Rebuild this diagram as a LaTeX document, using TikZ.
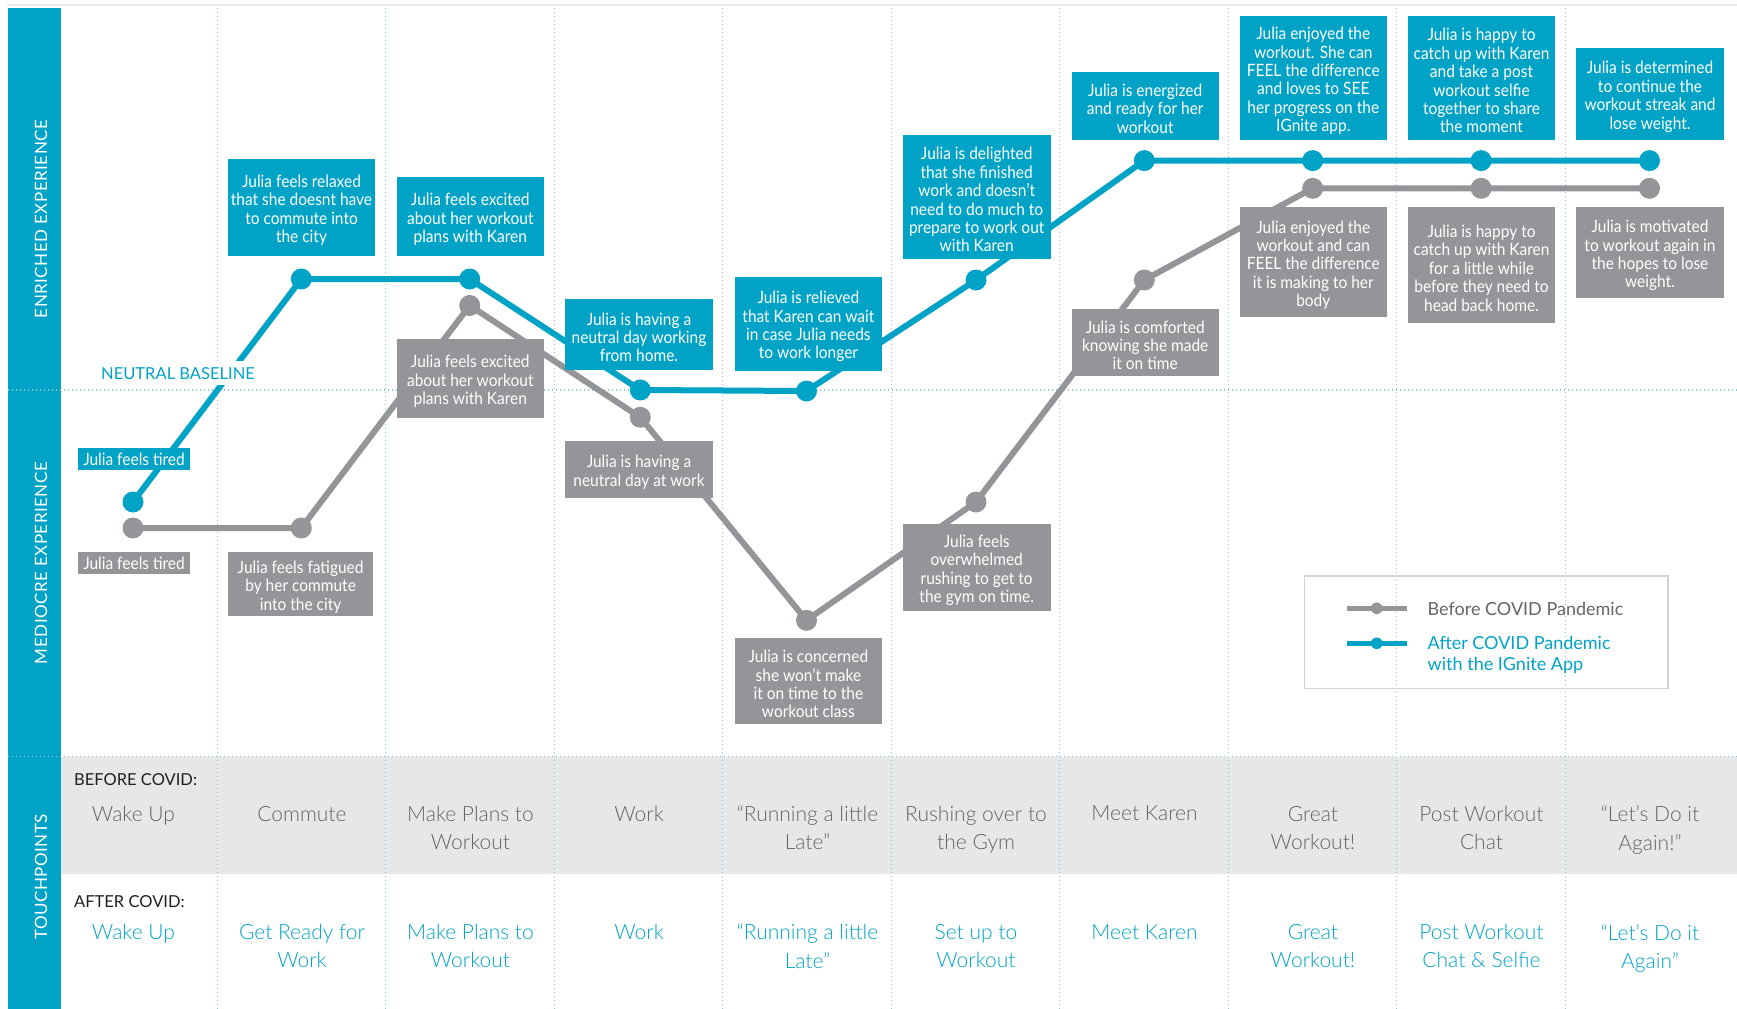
\documentclass[tikz,border=0pt]{standalone}
\usepackage{fontspec}
\usetikzlibrary{calc}
\setmainfont{Lato}
\IfFontExistsTF{Lato Light}{\newfontfamily\lightfont{Lato Light}}{\newfontfamily\lightfont{Lato}}
\newfontfamily\spacedfont{Lato}[LetterSpace=3]
\newfontfamily\cardfont{Lato}[FakeStretch=0.91]
\definecolor{ig}{RGB}{0,163,198}
\definecolor{gbox}{RGB}{147,149,152}
\definecolor{band}{RGB}{230,231,232}
\definecolor{dotc}{RGB}{140,200,212}
\definecolor{tpgray}{RGB}{100,101,104}
\definecolor{dark}{RGB}{35,31,32}
\definecolor{legedge}{RGB}{209,211,212}
\tikzset{
  card1/.style={inner sep=0pt, align=center, text=white,
    font=\cardfont\fontsize{17}{18.4}\selectfont},
  cardtext/.style={card1, yshift=-2.8pt},
  abox/.style={inner sep=0pt, fill=ig},
  bbox/.style={inner sep=0pt, fill=gbox},
  divider/.style={dotc, line width=1.2pt, dash pattern=on 1.2pt off 2.8pt},
  aline/.style={ig, line width=6pt, line join=round},
  bline/.style={gbox, line width=6pt, line join=round},
  tpbefore/.style={anchor=north, inner sep=0pt, align=center, text=tpgray,
    font=\lightfont\fontsize{21}{28.3}\selectfont},
  tpafter/.style={tpbefore, text=ig},
  bartext/.style={rotate=90, text=white, inner sep=0pt,
    font=\spacedfont\fontsize{17}{20}\selectfont},
  rowhead/.style={anchor=base west, inner sep=0pt, text=dark,
    font=\fontsize{16.5}{19}\selectfont},
}
% #1 box style, #2 name, #3 x, #4 y, #5 width, #6 height, #7 text
\newcommand\mkcard[7]{%
  \node[#1, minimum width=#5pt, minimum height=#6pt] (#2) at (#3,#4) {};
  \node[cardtext] (#2t) at (#2.center) {#7};}
\begin{document}
\begin{tikzpicture}[x=1pt,y=-1pt]
\useasboundingbox (0,0) rectangle (1737,1009);
\fill[white] (0,0) rectangle (1737,1009);
\draw[black!8, line width=1.5pt] (7,5) -- (1737,5);
% side bar and touchpoint band
\fill[ig] (7.7,7.7) rectangle (61,1009);
\fill[band] (61,756.6) rectangle (1737,874);
% grid
\foreach \i in {0,...,8} \draw[divider] ({217.25+168.5*\i},7.7) -- ({217.25+168.5*\i},1009);
\draw[divider] (7.7,390) -- (1737,390);
\draw[divider] (7.7,756.6) -- (1737,756.6);
% points
\coordinate (b1) at (133,502);
\coordinate (b2) at (301.3,279);
\coordinate (b3) at (469.7,279);
\coordinate (b4) at (640.3,390);
\coordinate (b5) at (806.5,391);
\coordinate (b6) at (976,280);
\coordinate (b7) at (1144.3,160.6);
\coordinate (b8) at (1312.7,160.6);
\coordinate (b9) at (1481.1,160.6);
\coordinate (b10) at (1649.5,160.6);
\coordinate (g1) at (133,528);
\coordinate (g2) at (301.3,528);
\coordinate (g3) at (469.7,305.5);
\coordinate (g4) at (640.3,417.3);
\coordinate (g5) at (806.5,620.3);
\coordinate (g6) at (976,502);
\coordinate (g7) at (1144.3,280);
\coordinate (g8) at (1312.7,188.3);
\coordinate (g9) at (1481.1,188.3);
\coordinate (g10) at (1649.5,188.3);
\draw[bline] (g1) -- (g2) -- (g3) -- (g4) -- (g5) -- (g6) -- (g7) -- (g8) -- (g9) -- (g10);
\draw[aline] (b1) -- (b2) -- (b3) -- (b4) -- (b5) -- (b6) -- (b7) -- (b8) -- (b9) -- (b10);
\foreach \n in {g1,g2,g3,g4,g5,g6,g7,g8,g9,g10} \fill[gbox] (\n) circle (10.5pt);
\foreach \n in {b1,b2,b3,b4,b5,b6,b7,b8,b9,b10} \fill[ig] (\n) circle (10.5pt);
% after cards
\node[card1, fill=ig, minimum width=112.5pt, minimum height=21.5pt] (a1) at (134,459) {Julia feels tired};
\mkcard{abox}{a2}{301.5}{207.5}{147}{97}{Julia feels relaxed\\that she doesnt have\\to commute into\\the city}
\mkcard{abox}{a3}{470.3}{216.7}{147.5}{79.5}{Julia feels excited\\about her workout\\plans with Karen}
\mkcard{abox}{a4}{639}{334.5}{147.3}{71}{Julia is having a\\neutral day working\\from home.}
\mkcard{abox}{a5}{808.4}{323.7}{147.7}{94}{Julia is relieved\\that Karen can wait\\in case Julia needs\\to work longer}
\mkcard{abox}{a6}{976.7}{197}{147.8}{124}{Julia is delighted\\that she finished\\work and doesn’t\\need to do much to\\prepare to work out\\with Karen}
\mkcard{abox}{a7}{1145.2}{106}{147.2}{68}{Julia is energized\\and ready for her\\workout}
\mkcard{abox}{a8}{1313.3}{78}{147}{124}{Julia enjoyed the\\workout. She can\\FEEL the difference\\and loves to SEE\\her progress on the\\IGnite app.}
\mkcard{abox}{a9}{1481.5}{78}{147}{124}{Julia is happy to\\catch up with Karen\\and take a post\\workout selfie\\together to share\\the moment}
\mkcard{abox}{a10}{1650}{94}{147.4}{91.7}{Julia is determined\\to continue the\\workout streak and\\lose weight.}
% before cards
\node[card1, fill=gbox, minimum width=112.5pt, minimum height=22pt] (c1) at (134,563.3) {Julia feels tired};
\mkcard{bbox}{c2}{300.6}{584}{145}{63.7}{Julia feels fatigued\\by her commute\\into the city}
\mkcard{bbox}{c3}{470.3}{378.5}{147.5}{79}{Julia feels excited\\about her workout\\plans with Karen}
\mkcard{bbox}{c4}{639}{469.5}{147.3}{57.6}{Julia is having a\\neutral day at work}
\mkcard{bbox}{c5}{808.4}{681.3}{147.7}{86}{Julia is concerned\\she won’t make\\it on time to the\\workout class}
\mkcard{bbox}{c6}{976.7}{567.5}{147.8}{86.4}{Julia feels\\overwhelmed\\rushing to get to\\the gym on time.}
\mkcard{bbox}{c7}{1145.2}{342.5}{147.2}{67.5}{Julia is comforted\\knowing she made\\it on time}
\mkcard{bbox}{c8}{1313.3}{262.3}{147}{110}{Julia enjoyed the\\workout and can\\FEEL the difference\\it is making to her\\body}
\mkcard{bbox}{c9}{1481.5}{265.3}{147}{116}{Julia is happy to\\catch up with Karen\\for a little while\\before they need to\\head back home.}
\mkcard{bbox}{c10}{1650}{252.8}{147.4}{91}{Julia is motivated\\to workout again in\\the hopes to lose\\weight.}
% neutral baseline label
\node[fill=white, text=ig, font=\fontsize{16.5}{18}\selectfont, inner xsep=3pt, inner ysep=6pt, anchor=base west] (nb) at (98,379) {NEUTRAL BASELINE};
% bar labels
\node[bartext] (enr) at (41,219) {ENRICHED EXPERIENCE};
\node[bartext] (med) at (41,563) {MEDIOCRE EXPERIENCE};
\node[bartext] (tch) at (41,877) {TOUCHPOINTS};
% legend
\node[draw=legedge, line width=1.5pt, minimum width=363.3pt, minimum height=112.3pt, inner sep=0pt] (legend) at (1486.2,632.2) {};
\coordinate (lgA) at (1346.8,608.3);
\coordinate (lgB) at (1406.6,608.3);
\coordinate (lgC) at (1346.8,643.3);
\coordinate (lgD) at (1406.6,643.3);
\draw[gbox, line width=4.5pt] (lgA) -- (lgB);
\fill[gbox] ($(lgA)!0.5!(lgB)$) circle (5.8pt);
\draw[ig, line width=4.5pt] (lgC) -- (lgD);
\fill[ig] ($(lgC)!0.5!(lgD)$) circle (5.8pt);
\node[anchor=base west, inner sep=0pt, text=tpgray, font=\fontsize{18}{20.5}\selectfont] (lgt1) at (1427.5,615) {Before COVID Pandemic};
\node[anchor=north west, inner sep=0pt, align=left, text=ig, font=\fontsize{18}{20.5}\selectfont] (lgt2) at (1427.5,636.5) {After COVID Pandemic\\with the IGnite App};
% touchpoints
\node[rowhead] (bc) at (74,785) {BEFORE COVID:};
\node[rowhead] (ac) at (74,907.3) {AFTER COVID:};
\node[tpbefore] (t1) at (133.5,805.8) {Wake Up};
\node[tpbefore] (t2) at (302,805.8) {Commute};
\node[tpbefore] (t3) at (470.5,805.8) {Make Plans to\\Workout};
\node[tpbefore] (t4) at (639,805.8) {Work};
\node[tpbefore] (t5) at (807.5,805.8) {“Running a little\\Late”};
\node[tpbefore] (t6) at (976,805.8) {Rushing over to\\the Gym};
\node[tpbefore] (t7) at (1144.5,805.8) {Meet Karen};
\node[tpbefore] (t8) at (1313,805.8) {Great\\Workout!};
\node[tpbefore] (t9) at (1481.5,805.8) {Post Workout\\Chat};
\node[tpbefore] (t10) at (1650,805.8) {“Let’s Do it\\Again!”};
\node[tpafter] (u1) at (133.5,924.1) {Wake Up};
\node[tpafter] (u2) at (302,924.1) {Get Ready for\\Work};
\node[tpafter] (u3) at (470.5,924.1) {Make Plans to\\Workout};
\node[tpafter] (u4) at (639,924.1) {Work};
\node[tpafter] (u5) at (807.5,924.1) {“Running a little\\Late”};
\node[tpafter] (u6) at (976,924.1) {Set up to\\Workout};
\node[tpafter] (u7) at (1144.5,924.1) {Meet Karen};
\node[tpafter] (u8) at (1313,924.1) {Great\\Workout!};
\node[tpafter] (u9) at (1481.5,924.1) {Post Workout\\Chat \& Selfie};
\node[tpafter] (u10) at (1650,924.1) {“Let’s Do it\\Again”};
\end{tikzpicture}
\end{document}
